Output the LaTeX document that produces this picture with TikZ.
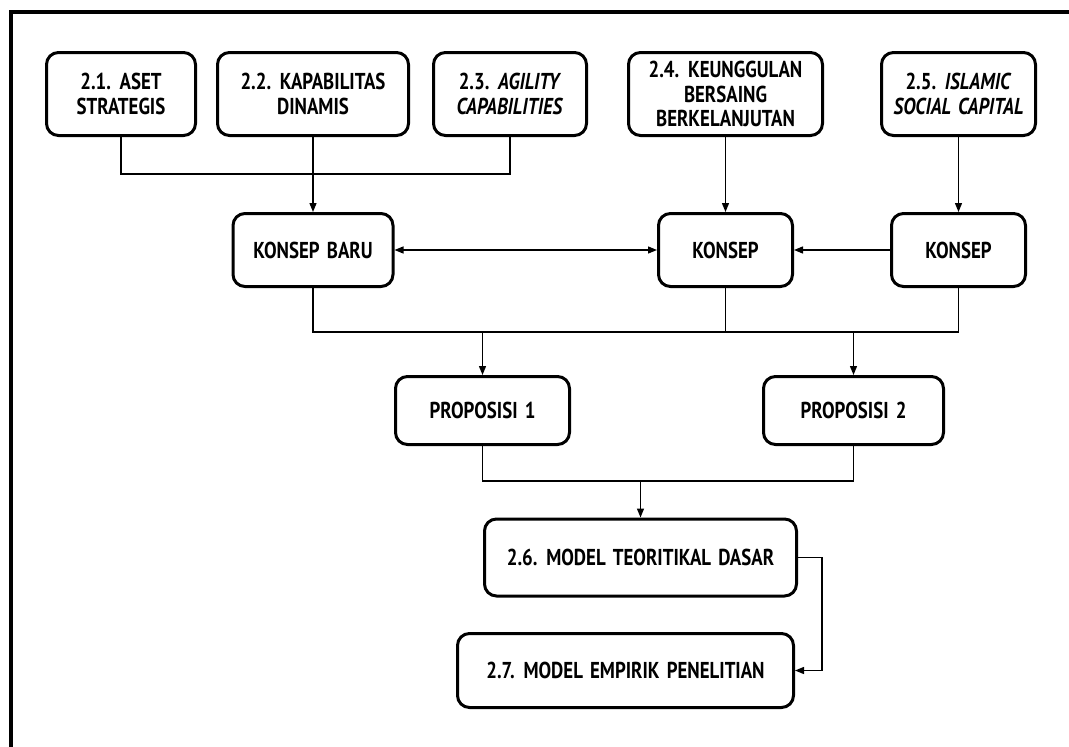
\documentclass[tikz,border=0pt]{standalone}
\usepackage{fontspec}
\setmainfont{PT Sans}[FakeStretch=0.82, WordSpace=1.5]
\usetikzlibrary{arrows.meta}
\begin{document}
\begin{tikzpicture}[x=1pt,y=-1pt,
  box/.style={draw, line width=3pt, rounded corners=12pt, align=center,
    inner sep=0pt, font=\fontsize{23}{24.5}\selectfont\bfseries},
  topbox/.style={box, minimum height=83pt},
  midbox/.style={box, minimum height=73pt},
  link/.style={line width=1.3pt},
  tip/.style={-{Triangle[length=9pt,width=7pt]}},
  twotip/.style={{Triangle[length=9pt,width=7pt]}-{Triangle[length=9pt,width=7pt]}}]
\useasboundingbox (0,0) rectangle (1069,747);
\fill[white] (0,0) rectangle (1069,747);
% outer frame, running off the right and bottom edges
\draw[line width=4pt] (10.5,760) |- (1080,12);

% source topics
\node[topbox, minimum width=149pt] (a1) at (121,94) {2.1. ASET\\STRATEGIS};
\node[topbox, minimum width=191pt] (a2) at (313,94) {2.2. KAPABILITAS\\DINAMIS};
\node[topbox, minimum width=153pt] (a3) at (510,94) {2.3. \textit{AGILITY}\\\textit{CAPABILITIES}};
\node[topbox, minimum width=194pt] (a4) at (725.5,94) {2.4. KEUNGGULAN\\BERSAING\\BERKELANJUTAN};
\node[topbox, minimum width=154pt] (a5) at (958.5,94) {2.5. \textit{ISLAMIC}\\\textit{SOCIAL CAPITAL}};

% concepts
\node[midbox, minimum width=160pt] (k1) at (313,250) {KONSEP BARU};
\node[midbox, minimum width=134pt] (k2) at (725.5,250) {KONSEP};
\node[midbox, minimum width=134pt] (k3) at (958.5,250) {KONSEP};

% propositions
\node[box, minimum width=174pt, minimum height=68pt] (p1) at (482.5,410.5) {PROPOSISI 1};
\node[box, minimum width=180pt, minimum height=68pt] (p2) at (853.5,410.5) {PROPOSISI 2};

% models
\node[box, minimum width=312pt, minimum height=77pt] (m6) at (640.5,557.5) {2.6. MODEL TEORITIKAL DASAR};
\node[box, minimum width=336pt, minimum height=74pt] (m7) at (625.5,670.5) {2.7. MODEL EMPIRIK PENELITIAN};

% junction levels
\coordinate (j1) at (0,174);
\coordinate (j2) at (0,332);
\coordinate (j3) at (0,481);

% topics into concepts
\draw[link] (a1.south) |- (a3.south |- j1) -- (a3.south);
\draw[link,tip] (a2.south) -- (k1.north);
\draw[link,tip] (a4.south) -- (k2.north);
\draw[link,tip] (a5.south) -- (k3.north);

% links between concepts
\draw[link,twotip] (k1.east) -- (k2.west);
\draw[link,tip] (k3.west) -- (k2.east);

% concepts into propositions
\draw[link] (k1.south) |- (k3.south |- j2) -- (k3.south);
\draw[link] (k2.south) -- (k2.south |- j2);
\draw[link,tip] (p1.north |- j2) -- (p1.north);
\draw[link,tip] (p2.north |- j2) -- (p2.north);

% propositions into the base model
\draw[link] (p1.south) |- (p2.south |- j3) -- (p2.south);
\draw[link,tip] (m6.north |- j3) -- (m6.north);

% base model into the empirical model
\draw[link,tip] (m6.east) -- ++(24,0) |- (m7.east);
\end{tikzpicture}
\end{document}
